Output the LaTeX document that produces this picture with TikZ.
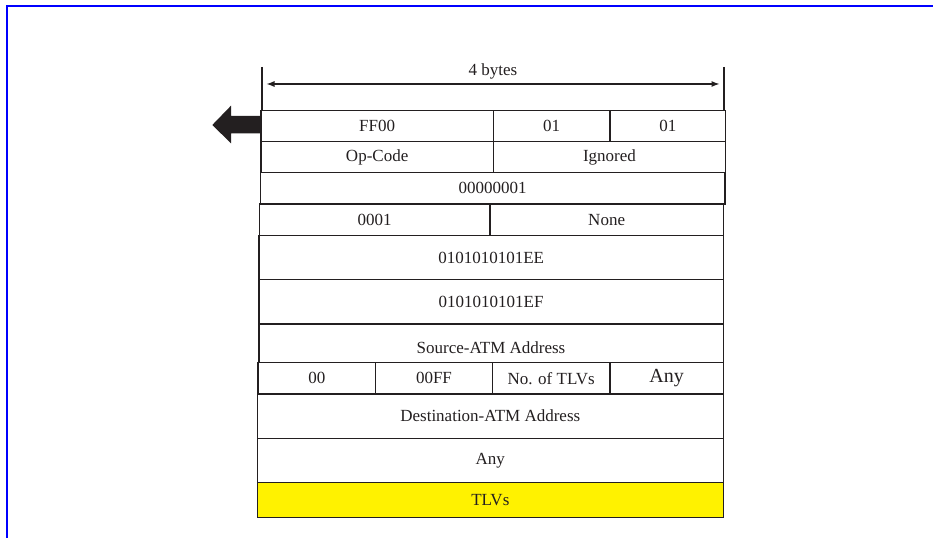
\documentclass[tikz,border=0pt]{standalone}
\usepackage{fontspec}
\setmainfont{Liberation Serif}
\usetikzlibrary{arrows.meta}
\definecolor{ink}{HTML}{231F20}
\definecolor{tlv}{HTML}{FFF200}
\definecolor{frameblue}{HTML}{0000FF}
% \mkcell[options]{name}{x1}{y1}{x2}{y2}{text}
\newcommand{\mkcell}[7][]{%
  \node[cell, #1, minimum width={(#5-#3)*0.75pt}, minimum height={(#6-#4)*0.75pt}]
    (#2) at ({(#3+#5)/2},{(#4+#6)/2}) {#7};}
\begin{document}
\begin{tikzpicture}[x=0.75pt,y=-0.75pt,
  cell/.style={draw=ink, line width=1.05pt, inner sep=0pt, outer sep=0pt, anchor=center, font=\fontsize{12.75}{15}\selectfont, text=ink},
  txt/.style={inner sep=0pt, font=\fontsize{12.75}{15}\selectfont, text=ink},
  dimline/.style={draw=ink, line width=0.8pt},
  bigtxt/.style={font=\fontsize{15}{18}\selectfont}]
\useasboundingbox (0,0) rectangle (933,538);
% blue frame
\draw[frameblue, line width=1.5pt] (7,538) -- (7,5.8) -- (933,5.8);
% dimension
\coordinate (tl) at (262,67);
\coordinate (tlb) at (262,111);
\coordinate (tr) at (724,67);
\coordinate (trb) at (724,111);
\coordinate (al) at (262.5,84);
\coordinate (ar) at (723.5,84);
\draw[dimline] (tl) -- (tlb);
\draw[dimline] (tr) -- (trb);
\draw[dimline, {Latex[length=6pt,width=4.5pt]}-{Latex[length=6pt,width=4.5pt]}, shorten <=3pt, shorten >=3pt] (al) -- (ar);
\node[txt] (bytes) at (493,71) {4 bytes};
% rows
\mkcell{ff}{261}{110.7}{493.3}{141.7}{FF00}
\mkcell{o1}{493.3}{110.7}{610}{141.7}{01}
\mkcell{o2}{610}{110.7}{725.7}{141.7}{01}
\mkcell{op}{261}{141.7}{493.3}{172.7}{Op-Code}
\mkcell{ign}{493.3}{141.7}{725.7}{172.7}{Ignored}
\mkcell{one}{260.3}{172.7}{725}{204}{00000001}
\mkcell{z1}{259.3}{204}{490}{235.5}{0001}
\mkcell{none}{490}{204}{723.3}{235.5}{None}
\mkcell{ee}{259}{235.5}{723.3}{279.5}{0101010101EE}
\mkcell{ef}{259}{279.5}{723.3}{324}{0101010101EF}
\mkcell{src}{259}{324}{723.3}{362.5}{}
\node[txt] (srclbl) at (491,347.5) {Source-ATM Address};
\mkcell{zz}{258}{362.5}{375.7}{394}{00}
\mkcell{zff}{375.7}{362.5}{492.3}{394}{00FF}
\mkcell{ntlv}{492.3}{362.5}{610}{394}{No. of TLVs}
\mkcell[bigtxt]{any1}{610}{362.5}{723.3}{394}{Any}
\mkcell{dst}{257.3}{394}{723.3}{438.3}{Destination-ATM Address}
\mkcell{any2}{257.3}{438.3}{723.3}{482.3}{Any}
\mkcell[fill=tlv]{tlvs}{257.3}{482.3}{723.3}{517.7}{TLVs}
% block arrow
\fill[ink] (ff.west |- 0,116) -- (231,116) -- (231,105.7) -- (212.3,125) -- (231,143.3) -- (231,133.3) -- (ff.west |- 0,133.3) -- cycle;
\end{tikzpicture}
\end{document}
